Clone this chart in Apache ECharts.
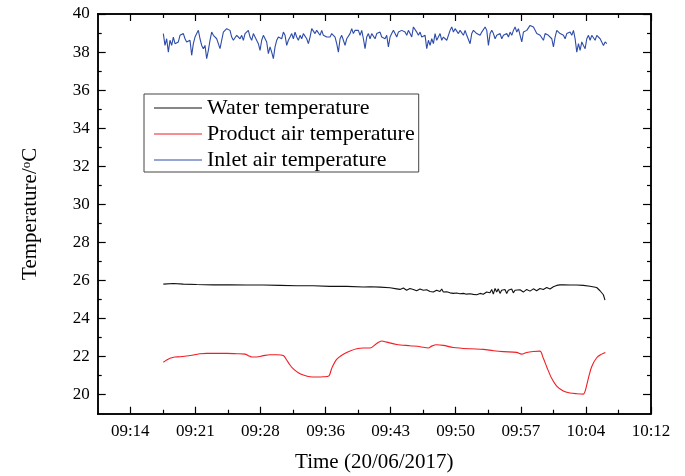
<!DOCTYPE html>
<html>
<head>
<meta charset="utf-8">
<script src="https://cdn.jsdelivr.net/npm/echarts@6/dist/echarts.min.js"></script>
<style>
html, body { margin: 0; padding: 0; background: #fff; }
#chart1 { width: 685px; height: 476px; }
</style>
</head>
<body>
<div id="chart1"></div>
<script>
// time is in minutes after midnight (20/06/2017)
var xTicks = [554.4, 561.6, 568.8, 576, 583.2, 590.4, 597.6, 604.8, 612];
var xMinorTicks = [558, 565.2, 572.4, 579.6, 586.8, 594, 601.2, 608.4];
var yTicks = [20, 22, 24, 26, 28, 30, 32, 34, 36, 38, 40];
var yMinorTicks = [21, 23, 25, 27, 29, 31, 33, 35, 37, 39];

var seriesNames = ["Water temperature", "Product air temperature", "Inlet air temperature"];

var waterTime = [558.06, 559.16, 560.27, 561.75, 563.59, 565.43, 567.28, 569.12, 570.96, 572.81, 574.65, 576.49, 578.34, 580.18,
    580.92, 582.02, 583.13, 583.87, 584.24, 584.61, 584.97, 585.34, 585.71, 586.08, 586.45, 586.82, 587.19, 587.55, 587.92, 588.29, 588.66,
    588.85, 589.03, 589.40, 589.77, 590.14, 590.50, 590.87, 591.24, 591.61, 591.98, 592.35, 592.72, 593.09, 593.45, 593.82, 594.19,
    594.38, 594.56, 594.75, 594.93, 595.11, 595.30, 595.48, 595.67, 595.85, 596.04, 596.22, 596.40, 596.59, 596.77, 596.96, 597.14,
    597.51, 597.88, 598.25, 598.62, 598.99, 599.35, 599.72, 600.09, 600.46, 600.83, 601.20, 601.57, 601.93, 602.30,
    603.04, 603.78, 604.51, 605.25, 605.99, 606.36, 606.54, 606.73, 606.91];
var waterTemp = [25.81, 25.84, 25.81, 25.79, 25.77, 25.77, 25.76, 25.76, 25.74, 25.72, 25.72, 25.69, 25.69, 25.66,
    25.67, 25.65, 25.62, 25.56, 25.53, 25.60, 25.49, 25.58, 25.53, 25.46, 25.55, 25.49, 25.51, 25.42, 25.39, 25.49, 25.42,
    25.55, 25.39, 25.41, 25.35, 25.32, 25.34, 25.30, 25.32, 25.28, 25.30, 25.27, 25.25, 25.32, 25.28, 25.39, 25.35,
    25.53, 25.28, 25.58, 25.39, 25.56, 25.32, 25.49, 25.42, 25.53, 25.32, 25.49, 25.39, 25.55, 25.35, 25.49, 25.42,
    25.51, 25.39, 25.53, 25.44, 25.56, 25.46, 25.58, 25.53, 25.63, 25.55, 25.67, 25.74, 25.77, 25.77,
    25.76, 25.76, 25.74, 25.70, 25.63, 25.46, 25.53, 25.25, 24.97];

var productTime = [558.06, 558.43, 558.80, 559.35, 559.90, 560.64, 561.38, 562.12, 562.85, 563.96, 565.07, 566.17, 567.09, 567.46,
    567.83, 568.38, 569.12, 569.86, 570.60, 571.33, 571.70, 572.07, 572.44, 572.99, 573.55, 574.28, 575.02, 575.76, 576.38, 576.68,
    577.23, 577.97, 578.71, 579.45, 580.18, 580.92, 581.66, 582.21, 582.76, 583.87, 585.34, 586.45, 587.37, 587.74, 588.29, 589.03,
    590.14, 591.98, 593.45, 594.56, 595.67, 597.14, 597.69, 598.25, 598.98, 599.72, 600.09, 600.46, 601.01, 601.57, 602.30, 603.04,
    603.78, 604.51, 604.70, 605.07, 605.44, 605.99, 606.54, 606.95];
var productTemp = [21.70, 21.82, 21.91, 21.98, 21.99, 22.03, 22.08, 22.15, 22.17, 22.17, 22.17, 22.15, 22.13, 22.05,
    21.98, 21.98, 22.05, 22.10, 22.10, 22.06, 21.82, 21.56, 21.35, 21.15, 21.03, 20.94, 20.93, 20.94, 20.99, 21.38,
    21.85, 22.12, 22.29, 22.41, 22.45, 22.45, 22.69, 22.82, 22.76, 22.64, 22.57, 22.52, 22.45, 22.55, 22.62, 22.59,
    22.48, 22.41, 22.38, 22.31, 22.26, 22.22, 22.13, 22.22, 22.27, 22.29, 21.91, 21.47, 20.86, 20.45, 20.19, 20.09,
    20.05, 20.03, 20.16, 20.86, 21.47, 21.94, 22.13, 22.22];

// inlet air logged every ~11 s from 09:18:04
var inletStart = 558.06;
var inletStep = 0.1844;
var inletTemp = [
    38.97, 38.35, 38.70, 38.00, 38.62, 38.35, 38.79, 38.44, 38.35, 38.53,
    38.88, 38.79, 38.97, 38.70, 38.53, 38.44, 38.62, 37.83, 38.44, 38.79,
    38.97, 39.14, 38.70, 38.35, 38.18, 38.35, 37.65, 38.09, 38.62, 39.05,
    38.88, 38.97, 38.70, 38.44, 38.18, 38.62, 39.05, 39.14, 39.23, 39.28,
    39.14, 38.79, 38.62, 38.70, 38.88, 38.97, 38.70, 38.88, 38.62, 38.97,
    38.88, 39.14, 38.79, 38.62, 38.97, 38.79, 38.70, 38.44, 38.09, 38.62, 38.88,
    38.88, 38.53, 37.92, 38.27, 38.00, 37.65, 38.27, 38.62, 38.79, 38.88,
    38.70, 39.05, 38.88, 38.35, 38.62, 38.79, 38.97, 38.70, 39.05, 38.79,
    38.62, 38.88, 38.70, 38.97, 39.05, 38.70, 38.44, 38.79, 39.23, 39.14,
    38.97, 39.14, 39.05, 38.88, 39.14, 38.88, 38.97, 38.79, 38.88, 38.79,
    38.97, 38.88, 38.79, 38.44, 38.00, 38.70, 38.88, 38.62, 38.35, 38.70,
    38.79, 38.97, 39.23, 38.97, 39.14, 39.05, 39.14, 38.88, 39.14, 38.70,
    38.18, 38.79, 38.97, 38.70, 38.97, 38.88, 38.70, 38.97, 38.88, 39.05,
    38.79, 38.88, 38.70, 38.88, 38.27, 38.79, 38.97, 39.14, 38.97, 38.79, 39.05,
    38.97, 39.14, 39.23, 39.05, 38.88, 39.14, 38.97, 38.79, 39.32, 39.40,
    39.05, 38.88, 39.05, 38.79, 38.70, 38.88, 38.18, 38.62, 38.35, 38.70,
    38.44, 38.97, 38.62, 38.70, 38.97, 38.62, 38.79, 38.88, 38.62, 38.88,
    39.14, 39.32, 39.05, 39.23, 39.32, 38.97, 39.14, 39.23, 38.88, 39.14,
    38.88, 38.97, 38.44, 38.97, 39.14, 39.05, 38.97, 39.05, 38.88, 39.05,
    38.97, 39.32, 39.14, 38.35, 38.97, 39.14, 38.97, 38.70, 38.88, 38.79,
    38.97, 38.70, 38.88, 38.79, 38.97, 38.79, 39.05, 38.88, 39.14, 39.32,
    39.05, 39.23, 38.88, 38.53, 39.05, 38.97, 39.14, 39.23,
    39.40, 39.35, 39.32, 39.23, 38.97, 39.05, 38.88, 38.97, 38.62, 38.97,
    39.05, 38.88, 38.97, 38.70, 38.27, 38.79, 39.14, 39.23, 38.97, 39.05,
    38.88, 38.70, 38.97, 38.88, 39.05, 38.88, 39.14, 38.70, 38.00, 38.44,
    38.09, 38.53, 38.35, 38.18, 38.70, 38.88, 38.62, 38.88, 38.79, 38.62,
    38.88, 38.97, 38.70, 38.62, 38.35, 38.53, 38.44
];

var FONT = "Liberation Serif";

function pad(n) {
    return (n < 10 ? "0" : "") + n;
}
function timeLabel(v) {
    var m = Math.floor(v + 1e-6);
    return pad(Math.floor(m / 60)) + ":" + pad(m % 60);
}
function zip(xs, ys) {
    var out = [];
    for (var i = 0; i < ys.length; i++) out.push([xs[i], ys[i]]);
    return out;
}

var inletTime = [];
for (var i = 0; i < inletTemp.length; i++) inletTime.push(inletStart + i * inletStep);

var X_MIN = 550.8, X_MAX = 612, Y_MIN = 19, Y_MAX = 40;

function xAxisDef(pos, ticks, len, labels) {
    return {
        type: "value", position: pos, min: X_MIN, max: X_MAX,
        axisLine: { show: true, onZero: false, lineStyle: { color: "#000", width: 1.5 } },
        axisTick: { show: true, inside: true, length: len, customValues: ticks, lineStyle: { color: "#000", width: 1.2 } },
        axisLabel: {
            show: labels, customValues: ticks, margin: 9, formatter: timeLabel,
            color: "#000", fontFamily: FONT, fontSize: 17
        },
        splitLine: { show: false }
    };
}
function yAxisDef(pos, ticks, len, labels) {
    return {
        type: "value", position: pos, min: Y_MIN, max: Y_MAX,
        axisLine: { show: true, onZero: false, lineStyle: { color: "#000", width: 1.5 } },
        axisTick: { show: true, inside: true, length: len, customValues: ticks, lineStyle: { color: "#000", width: 1.2 } },
        axisLabel: {
            show: labels, customValues: ticks, margin: 8,
            color: "#000", fontFamily: FONT, fontSize: 17
        },
        splitLine: { show: false }
    };
}

var myChart = echarts.init(document.getElementById("chart1"), null, { renderer: "canvas" });

var xMain = xAxisDef("bottom", xTicks, 7, true);
xMain.name = "Time (20/06/2017)";
xMain.nameLocation = "middle";
xMain.nameGap = 38;
xMain.nameTextStyle = { color: "#000", fontFamily: FONT, fontSize: 21 };

var yMain = yAxisDef("left", yTicks, 8, true);
yMain.name = "{a|Temperature/}{s|o}{a|C}";
yMain.nameLocation = "middle";
yMain.nameGap = 57;
yMain.nameRotate = 90;
yMain.nameTextStyle = {
    color: "#000", fontFamily: FONT, fontSize: 21,
    rich: {
        a: { color: "#000", fontFamily: FONT, fontSize: 21 },
        s: { color: "#000", fontFamily: FONT, fontSize: 13, verticalAlign: "top", padding: [0, 0, 8, 0] }
    }
};

var option = {
    animation: false,
    backgroundColor: "#fff",
    grid: { left: 97.7, top: 14, right: 34, bottom: 62.3, containLabel: false, outerBoundsMode: "none" },
    legend: {
        left: 144, top: 94,
        orient: "vertical",
        data: seriesNames,
        icon: "rect",
        itemWidth: 48, itemHeight: 1.2,
        itemGap: 4,
        padding: [3, 4, 1, 10],
        backgroundColor: "#fff",
        borderColor: "#444", borderWidth: 1, borderRadius: 0,
        textStyle: { color: "#000", fontFamily: FONT, fontSize: 22, lineHeight: 22 }
    },
    xAxis: [
        xMain,
        xAxisDef("bottom", xMinorTicks, 4, false),
        xAxisDef("top", xTicks, 7, false),
        xAxisDef("top", xMinorTicks, 4, false)
    ],
    yAxis: [
        yMain,
        yAxisDef("left", yMinorTicks, 4, false),
        yAxisDef("right", yTicks, 8, false),
        yAxisDef("right", yMinorTicks, 4, false)
    ],
    series: [
        {
            name: seriesNames[0], type: "line", showSymbol: false, symbol: "none",
            data: zip(waterTime, waterTemp),
            itemStyle: { color: "#111" }, lineStyle: { color: "#111", width: 1.1 }
        },
        {
            name: seriesNames[1], type: "line", showSymbol: false, symbol: "none", smooth: 0.3,
            data: zip(productTime, productTemp),
            itemStyle: { color: "#f21d24" }, lineStyle: { color: "#f21d24", width: 1.1 }
        },
        {
            name: seriesNames[2], type: "line", showSymbol: false, symbol: "none",
            data: zip(inletTime, inletTemp),
            itemStyle: { color: "#2d4ba8" }, lineStyle: { color: "#2d4ba8", width: 1.1 }
        }
    ]
};
myChart.setOption(option);
</script>
</body>
</html>
